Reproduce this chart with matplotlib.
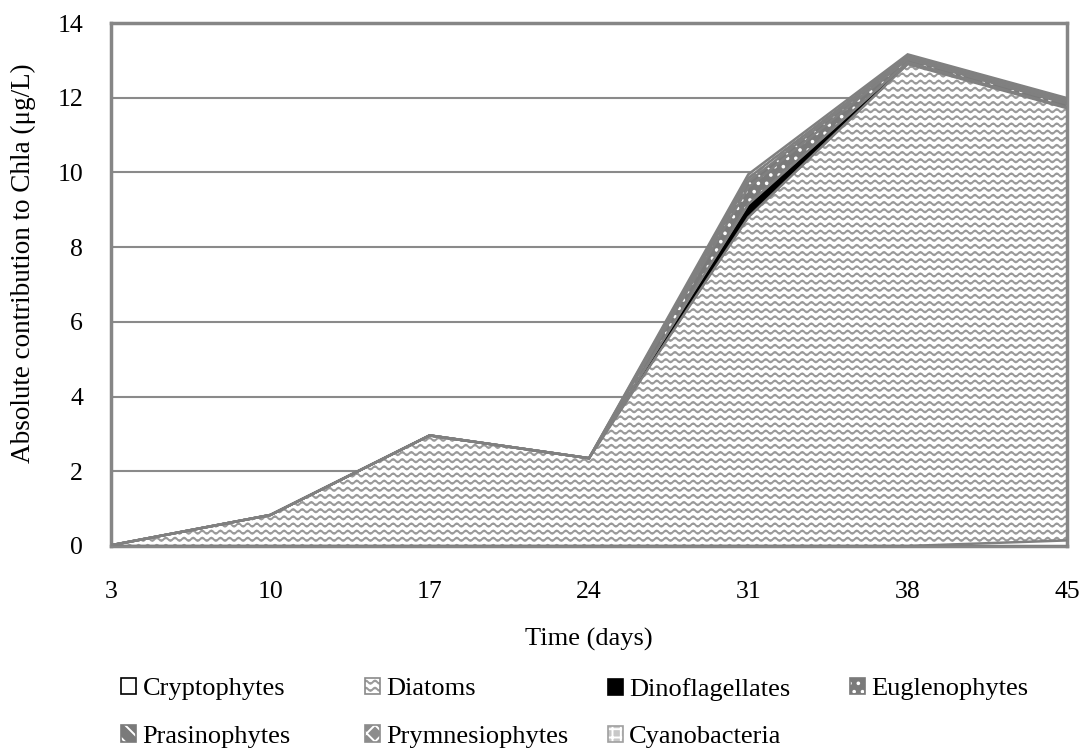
import warnings
import numpy as np
import matplotlib
matplotlib.use("Agg")
import matplotlib.pyplot as plt
import matplotlib.hatch as mhatch
from matplotlib.path import Path
from matplotlib.patches import Patch

warnings.filterwarnings("ignore")

# ---- data ----
days = [3, 10, 17, 24, 31, 38, 45]
groups = ["Cryptophytes", "Diatoms", "Dinoflagellates", "Euglenophytes",
          "Prasinophytes", "Prymnesiophytes", "Cyanobacteria"]
cryptophytes = [0.0, 0.0, 0.0, 0.0, 0.0, 0.0, 0.15]
diatoms = [0.02, 0.83, 2.96, 2.35, 8.80, 12.90, 11.57]
dinoflagellates = [0.0, 0.0, 0.0, 0.0, 0.35, 0.05, 0.02]
euglenophytes = [0.0, 0.0, 0.0, 0.0, 0.45, 0.08, 0.10]
prasinophytes = [0.0, 0.0, 0.0, 0.0, 0.15, 0.05, 0.05]
prymnesiophytes = [0.0, 0.0, 0.0, 0.0, 0.10, 0.03, 0.05]
cyanobacteria = [0.0, 0.0, 0.0, 0.0, 0.10, 0.05, 0.05]
yticks = [0, 2, 4, 6, 8, 10, 12, 14]


# ---- custom wavy hatch ----
class WaveHatch(mhatch.HatchPatternBase):
    ROWS = 14
    PERIODS = 11
    SAMPLES = 8

    def __init__(self, hatch, density):
        self.rows = self.ROWS if hatch.count('~') else 0
        self.npts = self.PERIODS * self.SAMPLES + 1
        self.num_vertices = self.rows * self.npts

    def set_vertices_and_codes(self, vertices, codes):
        xs = np.linspace(0, 1, self.npts)
        off = 0.016 * np.sin(2 * np.pi * self.PERIODS * xs)
        for i in range(self.rows):
            y0 = (i + 0.5) / self.rows
            s = slice(i * self.npts, (i + 1) * self.npts)
            vertices[s, 0] = xs
            vertices[s, 1] = y0 + off
            codes[s] = Path.LINETO
            codes[i * self.npts] = Path.MOVETO


mhatch._hatch_types.append(WaveHatch)

plt.rcParams['font.family'] = ['Liberation Serif', 'DejaVu Serif']
plt.rcParams['hatch.linewidth'] = 1.4

series = [cryptophytes, diatoms, dinoflagellates, euglenophytes,
          prasinophytes, prymnesiophytes, cyanobacteria]
faces = ['white', 'white', 'black', '#7a7a7a', '#7a7a7a', '#8c8c8c', '#c8c8c8']
hatches = [None, '~', None, '..', '\\\\', 'xx', '++']
hcols = ['white', '#9a9a9a', 'black', 'white', 'white', 'white', 'white']
border = ['black', '#8a8a8a', 'black', '#7a7a7a', '#7a7a7a', '#8c8c8c', '#a0a0a0']

fig = plt.figure(figsize=(10.84, 7.51), dpi=100)
ax = fig.add_axes([111 / 1084, 1 - 546 / 751, (1067 - 111) / 1084, (546 - 23) / 751])

x = np.array(days, dtype=float)
base = np.zeros(len(days))
tops = []
for vals, fc, h, hc in zip(series, faces, hatches, hcols):
    top = base + np.array(vals)
    ax.fill_between(x, base, top, facecolor=fc, hatch=h, edgecolor=hc,
                    linewidth=0, zorder=2)
    tops.append(top)
    base = top

# boundary lines
ax.plot(x, np.zeros(len(days)), color='#808080', lw=2, zorder=3)
for top in tops:
    ax.plot(x, top, color='#808080', lw=1.8, zorder=3, solid_joinstyle='miter')

ax.set_xlim(3, 45)
ax.set_ylim(0, 14)
ax.set_xticks(days)
ax.set_xticklabels([str(d) for d in days])
ax.set_yticks(yticks)
ax.yaxis.grid(True, color='#8a8a8a', lw=1.5, zorder=1)
ax.set_axisbelow(True)
ax.tick_params(length=0, labelsize=18.5)
ax.tick_params(axis='x', pad=25)
ax.tick_params(axis='y', pad=20)
for sp in ax.spines.values():
    sp.set_color('#868686')
    sp.set_linewidth(2.5)

ax.set_xlabel('Time (days)', fontsize=19, labelpad=18)
ax.set_ylabel('Absolute contribution to Chla (μg/L)', fontsize=19.5)
ax.yaxis.set_label_coords(-0.078, 0.54)

handles = []
for fc, h, hc, bc in zip(faces, hatches, hcols, border):
    p1 = Patch(facecolor=fc, hatch=h, edgecolor=hc, linewidth=0)
    p2 = Patch(fill=False, edgecolor=bc, linewidth=1.2)
    handles.append((p1, p2))

# legend laid out as 4 equal-width columns, rows read left-to-right
ncol = 4
col_x = [121, 365, 608, 850]
for c in range(ncol):
    idx = [i for i in range(len(groups)) if i % ncol == c]
    fig.legend([handles[i] for i in idx], [groups[i] for i in idx],
               ncol=1, loc='upper left',
               bbox_to_anchor=(col_x[c] / 1084, 1 - 678 / 751),
               frameon=False, fontsize=19, handlelength=0.56, handleheight=0.56,
               handletextpad=0.25, labelspacing=0.95,
               borderaxespad=0, borderpad=0)

fig.savefig('out.png', dpi=100)
